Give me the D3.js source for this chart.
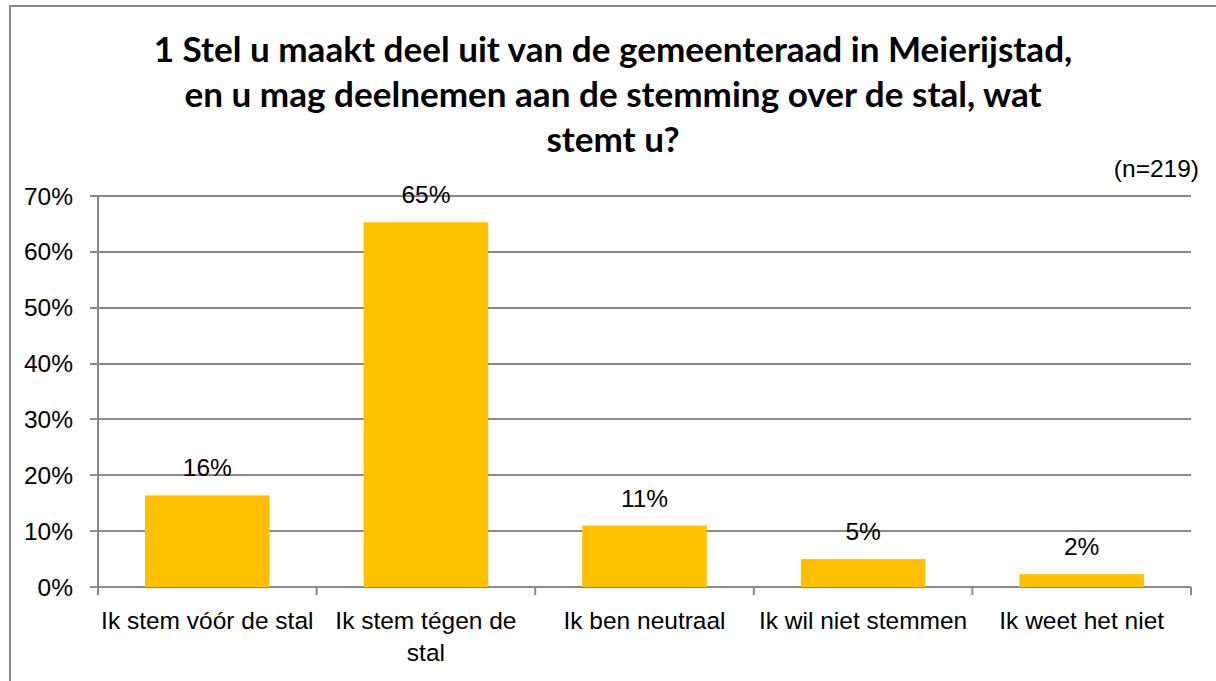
<!DOCTYPE html>
<html>
<head>
<meta charset="utf-8">
<script src="https://cdn.jsdelivr.net/npm/d3@7"></script>
<style>
  html, body { margin: 0; padding: 0; background: #fff; }
  svg { display: block; }
  text { font-family: "Liberation Sans", Arial, sans-serif; fill: #000; }
  .title { font-family: Lato, "Liberation Sans", sans-serif; }
</style>
</head>
<body>
<svg id="chart" width="1216" height="681"></svg>
<script>
const titleLines = [
  "1 Stel u maakt deel uit van de gemeenteraad in Meierijstad,",
  "en u mag deelnemen aan de stemming over de stal, wat",
  "stemt u?"
];
const sampleNote = "(n=219)";
const categories = [
  "Ik stem vóór de stal",
  "Ik stem tégen de stal",
  "Ik ben neutraal",
  "Ik wil niet stemmen",
  "Ik weet het niet"
];
const values = [0.164, 0.653, 0.110, 0.050, 0.023];
const valueLabels = ["16%", "65%", "11%", "5%", "2%"];
const yTicks = [0, 0.1, 0.2, 0.3, 0.4, 0.5, 0.6, 0.7];

const svg = d3.select("#chart");
const plot = { left: 98, right: 1191, top: 196, bottom: 587 };
const grid = "#8a8a8a";
const labelSize = 24.5;

// outer border
svg.append("rect")
  .attr("x", 10).attr("y", 6).attr("width", 1230).attr("height", 700)
  .attr("fill", "#fff").attr("stroke", "#8c8c8c").attr("stroke-width", 2);

const y = d3.scaleLinear().domain([0, 0.7]).range([plot.bottom, plot.top]);
const x = d3.scaleBand().domain(categories).range([plot.left, plot.right])
  .paddingInner(0.43).paddingOuter(0.215);

// title
const titleBase = [62, 107, 152];
const tl = svg.append("g").selectAll("text").data(titleLines).join("text")
  .attr("class", "title")
  .attr("x", 613).attr("y", (d, i) => titleBase[i])
  .attr("text-anchor", "middle")
  .attr("font-weight", "bold")
  .attr("font-size", 30)
  .text(d => d);
const w0 = tl.node().getComputedTextLength();
tl.attr("font-size", 30 * 919 / w0);

// n note
svg.append("text").attr("x", 1199).attr("y", 177)
  .attr("text-anchor", "end").attr("font-size", labelSize).text(sampleNote);

// gridlines
svg.append("g").selectAll("line").data(yTicks).join("line")
  .attr("x1", plot.left - 8).attr("x2", plot.right)
  .attr("y1", d => Math.round(y(d))).attr("y2", d => Math.round(y(d)))
  .attr("stroke", grid).attr("stroke-width", 2);

// y axis line
svg.append("line")
  .attr("x1", plot.left).attr("x2", plot.left)
  .attr("y1", plot.top).attr("y2", plot.bottom + 8)
  .attr("stroke", grid).attr("stroke-width", 2);

// y tick labels
svg.append("g").selectAll("text").data(yTicks).join("text")
  .attr("x", 73).attr("y", d => y(d) + 8.5)
  .attr("text-anchor", "end").attr("font-size", labelSize)
  .text(d => d3.format(".0%")(d));

// x ticks at band boundaries
const bounds = categories.map(c => x(c) - x.step() * x.paddingInner() / 2);
bounds.push(plot.right);
svg.append("g").selectAll("line").data(bounds).join("line")
  .attr("x1", d => d).attr("x2", d => d)
  .attr("y1", plot.bottom).attr("y2", plot.bottom + 8)
  .attr("stroke", grid).attr("stroke-width", 2);

// bars
svg.append("g").selectAll("rect").data(values).join("rect")
  .attr("x", (d, i) => x(categories[i]))
  .attr("width", x.bandwidth())
  .attr("y", d => y(d))
  .attr("height", d => y(0) - y(d))
  .attr("fill", "#FFC000");

// value labels
svg.append("g").selectAll("text").data(values).join("text")
  .attr("x", (d, i) => x(categories[i]) + x.bandwidth() / 2)
  .attr("y", d => y(d) - 19)
  .attr("text-anchor", "middle").attr("font-size", labelSize)
  .text((d, i) => valueLabels[i]);

// category labels with wrapping
const maxW = 216;
const catG = svg.append("g");
categories.forEach(c => {
  const cx = x(c) + x.bandwidth() / 2;
  const t = catG.append("text").attr("x", cx).attr("y", 629)
    .attr("text-anchor", "middle").attr("font-size", labelSize);
  const words = c.split(" ");
  let line = [];
  let ts = t.append("tspan").attr("x", cx).attr("dy", 0);
  words.forEach(wd => {
    line.push(wd);
    ts.text(line.join(" "));
    if (ts.node().getComputedTextLength() > maxW && line.length > 1) {
      line.pop();
      ts.text(line.join(" "));
      line = [wd];
      ts = t.append("tspan").attr("x", cx).attr("dy", 32).text(wd);
    }
  });
});
</script>
</body>
</html>
